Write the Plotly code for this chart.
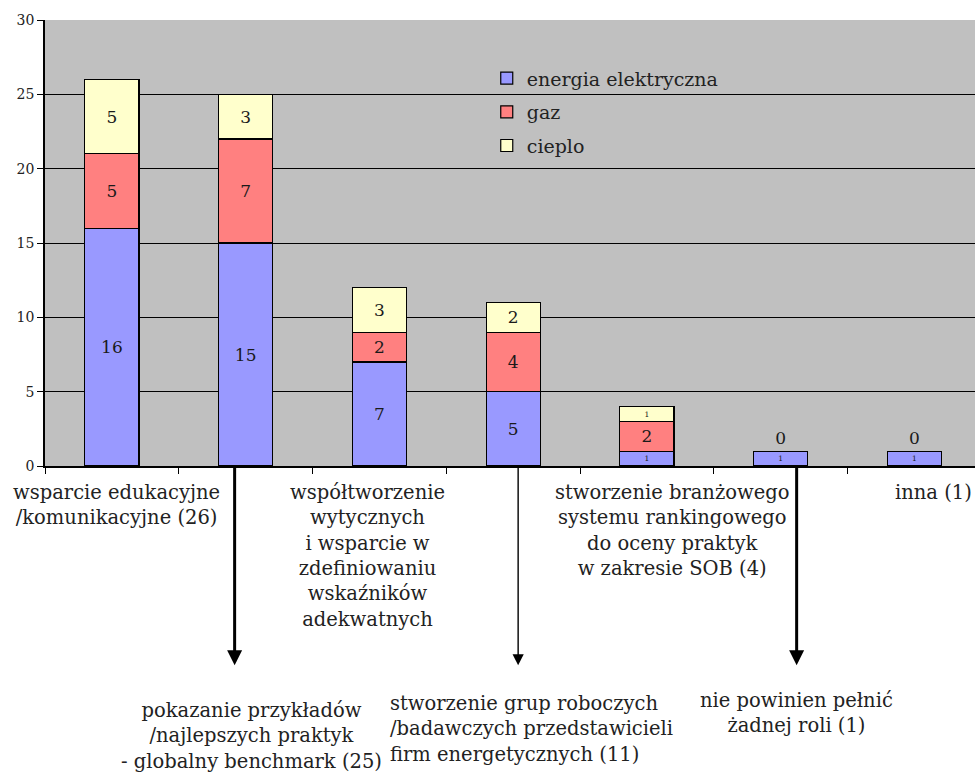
import plotly.graph_objects as go

categories = [
    "wsparcie edukacyjne<br>/komunikacyjne (26)",
    "pokazanie przykładów<br>/najlepszych praktyk<br>- globalny benchmark (25)",
    "współtworzenie<br>wytycznych<br>i wsparcie w<br>zdefiniowaniu<br>wskaźników<br>adekwatnych",
    "stworzenie grup roboczych<br>/badawczych przedstawicieli<br>firm energetycznych (11)",
    "stworzenie branżowego<br>systemu rankingowego<br>do oceny praktyk<br>w zakresie SOB (4)",
    "nie powinien pełnić<br>żadnej roli (1)",
    "inna (1)",
]
energia = [16, 15, 7, 5, 1, 1, 1]
gaz = [5, 7, 2, 4, 2, 0, 0]
cieplo = [5, 3, 3, 2, 1, 0, 0]

series_names = ["energia elektryczna", "gaz", "cieplo"]
colors = ["#9999FF", "#FF8080", "#FFFFCC"]

SERIF = "DejaVu Serif, Liberation Serif, serif"
cat_ids = list(range(len(categories)))

fig = go.Figure()
for i, (name, vals, col) in enumerate(zip(series_names, [energia, gaz, cieplo], colors)):
    last = i == 2
    fig.add_trace(go.Bar(
        x=cat_ids, y=vals, name=name, legendgroup=name,
        marker=dict(color=col, line=dict(color="black", width=1.2)),
        text=[str(v) if (v > 0 or last) else "" for v in vals],
        textposition=["inside" if v > 0 else "outside" for v in vals],
        insidetextanchor="middle", textangle=0,
        textfont=dict(family=SERIF, size=17, color="#1a1a1a"),
        cliponaxis=False,
    ))

fig.update_layout(
    barmode="stack",
    bargap=0.596,
    width=975, height=772,
    margin=dict(l=45, r=0, t=20, b=306),
    paper_bgcolor="white",
    plot_bgcolor="#C0C0C0",
    legend=dict(
        x=0.475, y=0.912, xanchor="left", yanchor="top",
        bgcolor="rgba(0,0,0,0)", traceorder="grouped",
        tracegroupgap=6,
        font=dict(family=SERIF, size=19, color="#222222"),
    ),
    showlegend=True,
)

fig.update_yaxes(
    range=[0, 30], dtick=5, showgrid=True, gridcolor="black", gridwidth=1,
    showline=True, linecolor="black", linewidth=1.5,
    ticks="outside", ticklen=6, tickcolor="black",
    tickfont=dict(family=SERIF, size=14, color="#222222"),
    zeroline=False,
)
# the last category runs past the right edge of the picture, as in the original
fig.update_xaxes(
    type="category", tickmode="array", tickvals=cat_ids, ticktext=[""] * len(cat_ids),
    tickson="boundaries", ticks="outside", ticklen=6, tickcolor="black",
    showline=True, linecolor="black", linewidth=1.5, showgrid=False,
    range=[-0.5, len(cat_ids) - 0.547],
)

# category labels: odd ones right under the axis, even ones lower with arrows
label_shift = [5, 6, -12, 18, 25, 16, 19]
label_lift = [0, -18, 0, -11, 0, -8, 0]
label_align = ["center", "center", "center", "left", "center", "center", "center"]
arrow_shift = [None, -11, None, 5, None, 16, None]
arrow_width = [None, 3, None, 1.4, None, 3, None]
for i, txt in enumerate(categories):
    low = i % 2 == 1
    fig.add_annotation(
        x=i, xref="x", y=-0.478 if low else -0.03, yref="paper",
        text=txt, showarrow=False, xanchor="center", yanchor="top",
        align=label_align[i], xshift=label_shift[i], yshift=label_lift[i],
        font=dict(family=SERIF, size=19.5, color="#222222"),
    )
    if low:
        fig.add_annotation(
            x=i, xref="x", y=-0.447, yref="paper", text="",
            showarrow=True, arrowhead=2, arrowsize=1 if arrow_width[i] > 2 else 1.6,
            arrowwidth=arrow_width[i], arrowcolor="black",
            axref="pixel", ayref="pixel", ax=0, ay=-199,
            xshift=arrow_shift[i],
        )

# drop the page's default body margin so the figure fills the window exactly
fig.write_html(
    "out.html",
    config={"displayModeBar": False},
    post_script="document.body.style.margin='0';document.body.style.overflow='hidden';",
)
